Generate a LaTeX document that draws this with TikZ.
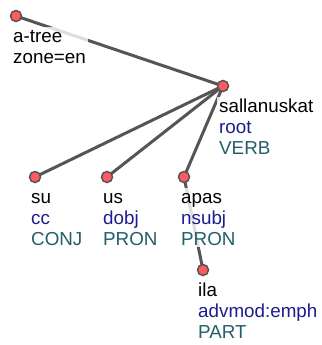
\documentclass[tikz,border=0pt]{standalone}
\usepackage{fontspec}
\setmainfont{Liberation Sans}
\usetikzlibrary{positioning}

\definecolor{edgegray}{HTML}{555555}
\definecolor{tokred}{HTML}{FF5A5F}
\definecolor{relblue}{HTML}{1C1C90}
\definecolor{posteal}{HTML}{245E6C}

\tikzset{
  tok/.style={circle, draw=edgegray, line width=1.5pt, fill=tokred,
    minimum size=11pt, inner sep=0pt},
  dep/.style={draw=edgegray, line width=3pt},
  lab/.style={anchor=north west, align=left, inner xsep=2pt, inner ysep=1pt,
    fill=white, fill opacity=0.8, text opacity=1,
    font=\fontsize{18.8}{21}\selectfont},
}
% word / relation / part of speech
\newcommand{\toklab}[3]{\strut #1\\\textcolor{relblue}{#2}\\\textcolor{posteal}{#3}}

\begin{document}
\begin{tikzpicture}[x=1pt,y=-1pt]
  \useasboundingbox (0,0) rectangle (321,345);

  % token positions
  \coordinate (tree) at (16,16);
  \coordinate (sal)  at (223,86);
  \coordinate (su)   at (35,177);
  \coordinate (us)   at (107,177);
  \coordinate (apas) at (184,177);
  \coordinate (ila)  at (203,270);

  % dependencies
  \draw[dep] (tree) -- (sal);
  \draw[dep] (sal) -- (su);
  \draw[dep] (sal) -- (us);
  \draw[dep] (sal) -- (apas);
  \draw[dep] (apas) -- (ila);

  % labels
  \node[lab] (tree-l) at ([shift={(-5,11)}]tree) {\strut a-tree\\zone=en};
  \node[lab] (sal-l)  at ([shift={(-6,11)}]sal)  {\toklab{sallanuskat}{root}{VERB}};
  \node[lab] (su-l)   at ([shift={(-6,11)}]su)   {\toklab{su}{cc}{CONJ}};
  \node[lab] (us-l)   at ([shift={(-6,11)}]us)   {\toklab{us}{dobj}{PRON}};
  \node[lab] (apas-l) at ([shift={(-5,11)}]apas) {\toklab{apas}{nsubj}{PRON}};
  \node[lab] (ila-l)  at ([shift={(-7,11)}]ila)  {\toklab{ila}{advmod:emph}{PART}};

  % tokens
  \foreach \t in {tree,sal,su,us,apas,ila}
    \node[tok] (\t-n) at (\t) {};
\end{tikzpicture}
\end{document}
